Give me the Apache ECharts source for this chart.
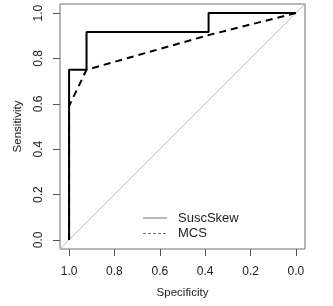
<!DOCTYPE html>
<html>
<head>
<meta charset="utf-8">
<script src="https://cdn.jsdelivr.net/npm/echarts@6/dist/echarts.min.js"></script>
<style>
  html, body { margin: 0; padding: 0; background: #fff; }
  #chart { width: 333px; height: 306px; }
</style>
</head>
<body>
<div id="chart"></div>
<script>
// ROC curves, specificity on a reversed x axis
const tickValues = [0, 0.2, 0.4, 0.6, 0.8, 1.0];
const suscSpec = [1.0, 1.0, 0.923, 0.923, 0.385, 0.385, 0.0];
const suscSens = [0.0, 0.75, 0.75, 0.917, 0.917, 1.0, 1.0];
const mcsSpec = [1.0, 1.0, 0.923, 0.385, 0.0];
const mcsSens = [0.0, 0.59, 0.75, 0.903, 1.0];
const diagSpec = [1.04, -0.04];
const diagSens = [-0.04, 1.04];
const legendNames = ["SuscSkew", "MCS"];

const pairs = (xs, ys) => xs.map((x, i) => [x, ys[i]]);

const font = "Liberation Sans, Arial, sans-serif";
const chart = echarts.init(document.getElementById("chart"));

// legend drawn by hand, R style (thin grey line samples)
const legendX = 143, legendY = 218, legendStep = 15.5;
const legendGraphic = [];
legendNames.forEach((name, i) => {
  const y = legendY + i * legendStep;
  legendGraphic.push({
    type: "line",
    shape: { x1: legendX, y1: y, x2: legendX + 24, y2: y },
    style: { stroke: "#777", lineWidth: 1, lineDash: i === 0 ? null : [3, 2] }
  });
  legendGraphic.push({
    type: "text",
    x: legendX + 35,
    y: y,
    style: { text: name, font: "13px " + font, fill: "#222", verticalAlign: "middle" }
  });
});

chart.setOption({
  animation: false,
  grid: { left: 60, right: 28, top: 4, bottom: 57, show: true, borderColor: "#6e6e6e", borderWidth: 1 },
  graphic: legendGraphic,
  xAxis: {
    type: "value",
    inverse: true,
    min: -0.04,
    max: 1.04,
    name: "Specificity",
    nameLocation: "middle",
    nameGap: 38,
    nameTextStyle: { fontFamily: font, fontSize: 11.5, color: "#222" },
    axisLine: { show: false, onZero: false },
    axisTick: { show: true, length: 7, customValues: tickValues, lineStyle: { color: "#555" } },
    axisLabel: { customValues: tickValues, margin: 17, fontFamily: font, fontSize: 12, color: "#222",
      formatter: v => v.toFixed(1) },
    splitLine: { show: false }
  },
  yAxis: {
    type: "value",
    min: -0.04,
    max: 1.04,
    name: "Sensitivity",
    nameLocation: "middle",
    nameGap: 36,
    nameTextStyle: { fontFamily: font, fontSize: 11.5, color: "#222" },
    axisLine: { show: false, onZero: false },
    axisTick: { show: true, length: 7, customValues: tickValues, lineStyle: { color: "#555" } },
    axisLabel: { customValues: tickValues, margin: 15, rotate: 90, fontFamily: font, fontSize: 12, color: "#222",
      formatter: v => v.toFixed(1) },
    splitLine: { show: false }
  },
  series: [
    {
      name: "diagonal",
      type: "line",
      data: pairs(diagSpec, diagSens),
      symbol: "none",
      silent: true,
      lineStyle: { color: "#bdbdbd", width: 1 },
      z: 1
    },
    {
      name: "SuscSkew",
      type: "line",
      data: pairs(suscSpec, suscSens),
      symbol: "none",
      lineStyle: { color: "#000", width: 2, type: "solid" },
      z: 3
    },
    {
      name: "MCS",
      type: "line",
      data: pairs(mcsSpec, mcsSens),
      symbol: "none",
      lineStyle: { color: "#000", width: 2, type: [7, 5] },
      z: 2
    }
  ]
});
</script>
</body>
</html>
